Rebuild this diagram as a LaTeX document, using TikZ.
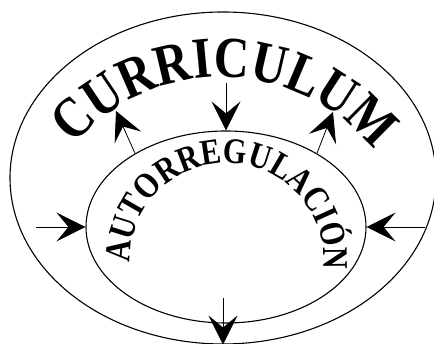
\documentclass[tikz,border=0pt]{standalone}
\usepackage{fontspec}
\setmainfont{Liberation Serif}
\usetikzlibrary{shapes.geometric,arrows.meta,decorations.text}
\newfontfamily\curfont[FakeStretch=0.84]{Liberation Serif Bold}
\tikzset{
  ring/.style={draw, ellipse, inner sep=0pt, line width=1.1pt},
  bigarrow/.style={-{Stealth[length=29pt,width=29pt,inset=12pt]}, line width=0.8pt},
}
\begin{document}
\begin{tikzpicture}[x=1pt,y=1pt]
\useasboundingbox (0,0) rectangle (434,344);
\node[ring, minimum width=426pt, minimum height=332pt] (outer) at (223,166) {};
\node[ring, minimum width=280pt, minimum height=192pt] (inner) at (226,117) {};
% arrows
\coordinate (tA) at (226,261);
\coordinate (lA) at (36,117);
\coordinate (rA) at (425,117);
\coordinate (bA) at (223,46);
\draw[bigarrow] (tA) -- (inner.north);
\draw[bigarrow] (lA) -- (inner.west);
\draw[bigarrow] (rA) -- (inner.east);
\draw[bigarrow] (bA) -- (outer.south);
\coordinate (ulT) at (116,233);
\coordinate (urT) at (333,232);
\draw[bigarrow] (inner.141) -- (ulT);
\draw[bigarrow] (inner.39) -- (urT);
% curved texts
\path[decorate, decoration={text along path, text align=center,
  text={|\curfont\fontsize{58}{58}\selectfont|CURRICULUM}}]
  (222,72) ++(146:195pt) arc[start angle=146, end angle=32, radius=195pt];
\path[decorate, decoration={text along path, text align=center,
  text={|\curfont\fontsize{36}{36}\selectfont|AUTORREGULACIÓN}}]
  (227,84) ++(186:97pt) arc[start angle=186, end angle=-10, radius=97pt];
\end{tikzpicture}
\end{document}
